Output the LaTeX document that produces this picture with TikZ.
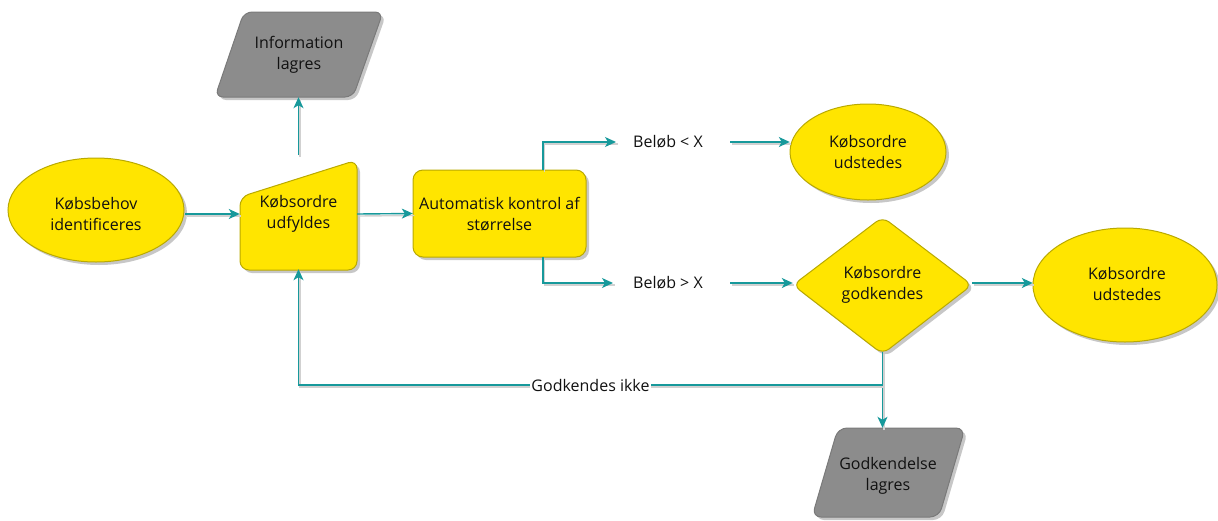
\documentclass[tikz,border=0pt]{standalone}
\usepackage{fontspec}
\setmainfont{Open Sans}
\usetikzlibrary{shapes.geometric,arrows.meta,shadows}
\definecolor{yel}{HTML}{FFE500}
\definecolor{yelb}{HTML}{B9A900}
\definecolor{gry}{HTML}{8C8C8C}
\definecolor{gryb}{HTML}{7A7A7A}
\definecolor{tealc}{HTML}{17999B}
\definecolor{txt}{HTML}{111111}
\tikzset{
  ybox/.style={fill=yel, draw=yelb, line width=1pt,
    drop shadow={shadow xshift=3pt, shadow yshift=-3pt, fill=black, opacity=0.22}},
  gbox/.style={fill=gry, draw=gryb, line width=1pt,
    drop shadow={shadow xshift=3pt, shadow yshift=-3pt, fill=black, opacity=0.22}},
  lbl/.style={text=txt, align=center, font=\fontsize{16}{21}\selectfont, inner sep=0pt},
  anch/.style={draw=none, inner sep=0pt},
  conn/.style={draw=tealc, line width=1.4pt, -{Stealth[length=11pt,width=10pt,inset=3pt]},
    preaction={draw=black!18, line width=1.4pt, -, transform canvas={xshift=1.5pt,yshift=-2pt}}},
}
\begin{document}
\begin{tikzpicture}[x=1pt,y=-1pt]
\useasboundingbox (0,0) rectangle (1218,520);

% shapes
\filldraw[ybox] (96,210) ellipse [x radius=88, y radius=52];
\node[anch, minimum width=178, minimum height=104] (kb) at (96,214) {};
\node[lbl] (kbt) at (96,214) {Købsbehov\\identificeres};

\filldraw[ybox, rounded corners=9] (240,197) -- (357,160) -- (357,270) -- (240,270) -- cycle;
\node[anch, minimum width=117, minimum height=110] (ko) at (298.5,214) {};
\node[lbl] (kot) at (298.5,214) {Købsordre\\udfyldes};

\filldraw[gbox, rounded corners=8] (215,97) -- (244,12) -- (383,12) -- (353,97) -- cycle;
\node[anch, minimum width=110, minimum height=85] (il) at (298.5,54.5) {};
\node[lbl] (ilt) at (299,55) {Information\\lagres};

\filldraw[ybox, rounded corners=10] (413,170) rectangle (586,257);
\node[anch, minimum width=173, minimum height=87] (ak) at (499.5,213.5) {};
\node[lbl] (akt) at (499.5,214) {Automatisk kontrol af\\størrelse};

\node[lbl] (bl) at (668,142) {Beløb < X};
\node[lbl] (bg) at (668,283) {Beløb > X};

\filldraw[ybox] (868,152) ellipse [x radius=78, y radius=48];
\node[anch, minimum width=156, minimum height=96] (ku1) at (868,152) {};
\node[lbl] (ku1t) at (868,152) {Købsordre\\udstedes};

\filldraw[ybox, rounded corners=8] (793,285) -- (882.5,217) -- (972,285) -- (882.5,354) -- cycle;
\node[anch, minimum width=179, minimum height=137] (kg) at (882.5,283) {};
\node[lbl] (kgt) at (882.5,285) {Købsordre\\godkendes};

\filldraw[ybox] (1125,285) ellipse [x radius=92, y radius=57];
\node[anch, minimum width=184, minimum height=114] (ku2) at (1125,283) {};
\node[lbl] (ku2t) at (1127,284) {Købsordre\\udstedes};

\filldraw[gbox, rounded corners=9] (812,517) -- (838,428) -- (965,428) -- (939,517) -- cycle;
\node[anch, minimum width=127, minimum height=89] (gl) at (882.5,472.5) {};
\node[lbl] (glt) at (888,476) {Godkendelse\\lagres};

% connectors
\coordinate (kotop) at (298.5,155);
\draw[conn] (kb.east) -- (ko.west);
\draw[conn] (kotop) -- (il.south);
\draw[conn] (ko.east) -- (ak.west);
\coordinate (akt1) at (543,170);
\coordinate (akb1) at (543,257);
\coordinate (bli) at (616,142);
\coordinate (blo) at (730,142);
\coordinate (bgi) at (613,283);
\coordinate (bgo) at (730,283);
\draw[conn] (akt1) |- (bli);
\draw[conn] (akb1) |- (bgi);
\draw[conn] (blo) -- (ku1.west |- blo);
\draw[conn] (bgo) -- (kg.west);
\draw[conn] (kg.east) -- (ku2.west);
\draw[conn] (kg.south) -- (gl.north);
\coordinate (j) at (882.5,385);
\draw[conn] (j) -| (ko.south)
  node[pos=0.25, fill=white, inner sep=1pt, text=txt, font=\fontsize{16}{19}\selectfont] (gi) {Godkendes ikke};
\end{tikzpicture}
\end{document}
